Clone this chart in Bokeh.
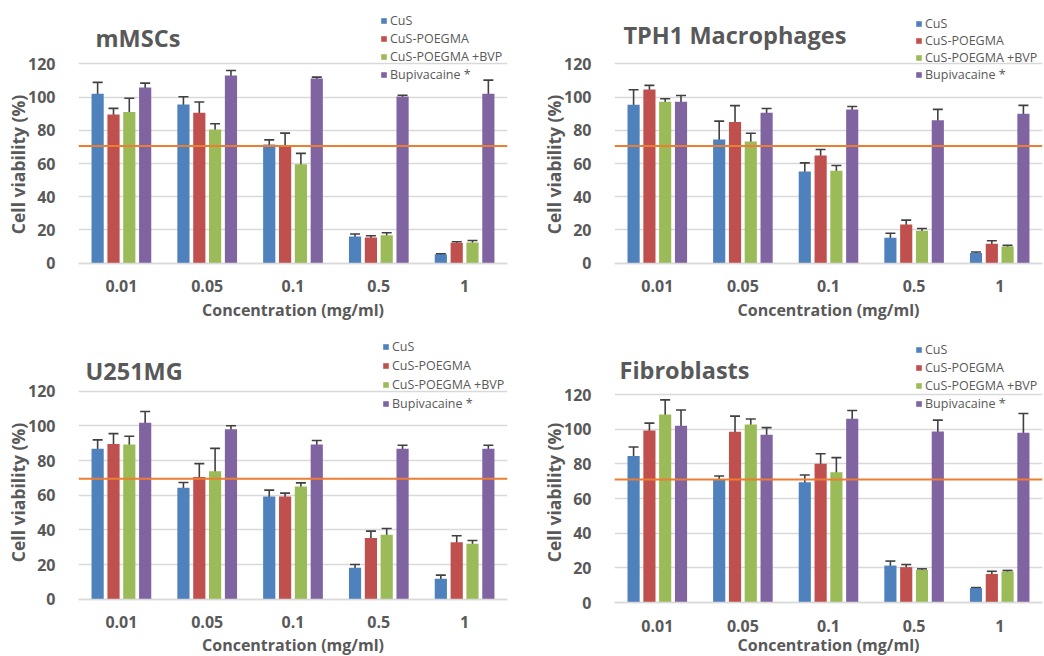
from bokeh.plotting import figure
from bokeh.models import (ColumnDataSource, FactorRange, Range1d, Whisker, Span,
                          Legend, LegendItem, TeeHead, FixedTicker, Label)
from bokeh.transform import dodge
from bokeh.layouts import gridplot
from bokeh.embed import file_html
from bokeh.resources import INLINE

# Concentrations tested (mg/ml) and the four treatments
concentrations = ["0.01", "0.05", "0.1", "0.5", "1"]
series_names = ["CuS", "CuS-POEGMA", "CuS-POEGMA +BVP", "Bupivacaine *"]
series_colors = ["#4F81BD", "#C0504D", "#9BBB59", "#8064A2"]
y_ticks = [0, 20, 40, 60, 80, 100, 120]

# mMSCs: mean viability (%) and standard deviation
mmsc_cus = [102.0, 95.5, 71.5, 16.0, 5.3]
mmsc_cus_sd = [6.8, 4.7, 2.7, 1.6, 0.4]
mmsc_poegma = [89.5, 90.5, 70.5, 15.5, 12.3]
mmsc_poegma_sd = [3.7, 6.5, 7.8, 1.0, 0.6]
mmsc_bvp = [91.0, 80.5, 59.5, 16.8, 12.5]
mmsc_bvp_sd = [8.3, 3.4, 6.6, 1.5, 1.2]
mmsc_bupi = [105.7, 113.0, 111.2, 100.3, 102.0]
mmsc_bupi_sd = [2.7, 3.0, 0.8, 0.8, 8.2]
mmsc_threshold = 70.5

# TPH1 macrophages
tph1_cus = [95.3, 74.5, 55.2, 15.3, 6.2]
tph1_cus_sd = [9.1, 11.0, 5.2, 2.7, 0.5]
tph1_poegma = [104.5, 85.0, 64.8, 23.3, 11.7]
tph1_poegma_sd = [2.5, 9.8, 3.6, 2.6, 1.8]
tph1_bvp = [97.2, 73.2, 55.6, 19.5, 10.1]
tph1_bvp_sd = [1.8, 5.0, 3.2, 1.4, 0.7]
tph1_bupi = [97.2, 90.5, 92.5, 86.0, 90.0]
tph1_bupi_sd = [3.7, 2.6, 1.8, 6.6, 5.0]
tph1_threshold = 70.5

# U251MG
u251_cus = [86.8, 64.3, 59.3, 18.2, 11.8]
u251_cus_sd = [5.1, 3.0, 3.6, 1.8, 2.1]
u251_poegma = [89.5, 70.5, 59.3, 35.3, 32.8]
u251_poegma_sd = [6.0, 7.7, 1.9, 4.0, 3.8]
u251_bvp = [89.2, 73.8, 65.0, 37.2, 32.0]
u251_bvp_sd = [4.8, 13.2, 2.1, 3.6, 1.9]
u251_bupi = [101.8, 98.0, 89.2, 86.8, 86.8]
u251_bupi_sd = [6.5, 2.1, 2.4, 2.0, 2.0]
u251_threshold = 69.5

# Fibroblasts
fibro_cus = [84.5, 71.0, 69.4, 21.3, 8.3]
fibro_cus_sd = [5.2, 2.0, 4.2, 2.6, 0.3]
fibro_poegma = [99.2, 98.5, 80.0, 20.4, 16.5]
fibro_poegma_sd = [4.3, 9.0, 5.8, 1.5, 1.5]
fibro_bvp = [108.5, 102.7, 75.2, 18.8, 17.9]
fibro_bvp_sd = [8.4, 3.2, 8.4, 0.6, 0.6]
fibro_bupi = [102.0, 96.8, 106.0, 98.6, 98.0]
fibro_bupi_sd = [9.1, 4.1, 4.8, 6.6, 11.0]
fibro_threshold = 71.0

TEXT = "#595959"
FONT = "Open Sans"
OFFSETS = [-0.277, -0.092, 0.092, 0.277]
BAR_W = 0.142
FIG_H = 328


def panel(title, means, sds, threshold, left, right, y_top_px, y_zero_px,
          title_pos, legend_loc, legend_spacing, xlabel_standoff):
    # the frame fills the whole height; the value axis is mapped so that
    # 120 sits at y_top_px and 0 at y_zero_px (pixels from the figure top)
    per_px = 120.0 / (y_zero_px - y_top_px)
    y_end = 120 + y_top_px * per_px
    y_start = -(FIG_H - y_zero_px) * per_px

    p = figure(width=522, height=FIG_H, x_range=FactorRange(*concentrations),
               y_range=Range1d(y_start, y_end), output_backend="svg",
               toolbar_location=None, min_border_left=left, min_border_right=right,
               min_border_top=0, min_border_bottom=0)
    p.outline_line_color = None
    p.background_fill_color = "white"

    p.xgrid.grid_line_color = None
    p.ygrid.ticker = FixedTicker(ticks=y_ticks)
    p.ygrid.grid_line_color = "#D9D9D9"
    p.ygrid.grid_line_width = 1.3

    p.yaxis.ticker = FixedTicker(ticks=y_ticks)
    p.yaxis.axis_line_color = None
    p.yaxis.major_tick_line_color = None
    p.yaxis.minor_tick_line_color = None
    p.yaxis.major_label_standoff = 17
    p.yaxis.axis_label = "Cell viability (%)"
    p.yaxis.axis_label_standoff = -5

    # category axis drawn along the zero line
    p.xaxis.fixed_location = 0
    p.xaxis.axis_line_color = "#D9D9D9"
    p.xaxis.axis_line_width = 1.5
    p.xaxis.major_tick_line_color = None
    p.xaxis.major_label_standoff = 11
    p.xaxis.axis_label = "Concentration (mg/ml)"
    p.xaxis.axis_label_standoff = xlabel_standoff

    for ax in (p.xaxis[0], p.yaxis[0]):
        ax.major_label_text_font = FONT
        ax.major_label_text_font_size = "16px"
        ax.major_label_text_font_style = "bold"
        ax.major_label_text_color = TEXT
        ax.axis_label_text_font = FONT
        ax.axis_label_text_font_style = "bold"
        ax.axis_label_text_color = TEXT
    p.xaxis.axis_label_text_font_size = "16px"
    p.yaxis.axis_label_text_font_size = "17.5px"

    # panel heading
    p.add_layout(Label(x=title_pos[0], y=title_pos[1], x_units="screen", y_units="screen",
                       text=title, text_align="left", text_baseline="middle",
                       text_font=FONT, text_font_size="23.5px", text_font_style="bold",
                       text_color=TEXT))

    items = []
    for name, color, off, m, s in zip(series_names, series_colors, OFFSETS, means, sds):
        src = ColumnDataSource(dict(
            x=concentrations, top=m,
            upper=[a + b for a, b in zip(m, s)],
            lower=[a - b for a, b in zip(m, s)]))
        xs = dodge("x", off, range=p.x_range)
        r = p.vbar(x=xs, top="top", bottom=0, width=BAR_W, source=src,
                   fill_color=color, line_color=None)
        w = Whisker(base=xs, upper="upper", lower="lower", source=src,
                    line_color="#404040", line_width=1.6,
                    upper_head=TeeHead(size=10, line_color="#404040", line_width=1.6),
                    lower_head=TeeHead(size=10, line_color="#404040", line_width=1.6))
        p.add_layout(w)
        items.append(LegendItem(label=name, renderers=[r]))

    p.add_layout(Span(location=threshold, dimension="width",
                      line_color="#ED7D31", line_width=2))

    leg = Legend(items=items, location=legend_loc)
    leg.label_text_font = FONT
    leg.label_text_font_size = "12.5px"
    leg.label_text_color = TEXT
    leg.glyph_width = 7
    leg.glyph_height = 7
    leg.label_standoff = 3
    leg.label_height = 12
    leg.spacing = legend_spacing
    leg.padding = 0
    leg.margin = 0
    leg.border_line_color = None
    leg.background_fill_alpha = 0
    p.add_layout(leg)
    return p


p1 = panel("mMSCs",
           [mmsc_cus, mmsc_poegma, mmsc_bvp, mmsc_bupi],
           [mmsc_cus_sd, mmsc_poegma_sd, mmsc_bvp_sd, mmsc_bupi_sd],
           mmsc_threshold, 78, 15, 63.3, 262.7, (17, 290.5), (302, 245), 1, 3)
p2 = panel("TPH1 Macrophages",
           [tph1_cus, tph1_poegma, tph1_bvp, tph1_bupi],
           [tph1_cus_sd, tph1_poegma_sd, tph1_bvp_sd, tph1_bupi_sd],
           tph1_threshold, 92, 2, 63.3, 262.7, (9, 293.5), (301, 245), -1, 3)
p3 = panel("U251MG",
           [u251_cus, u251_poegma, u251_bvp, u251_bupi],
           [u251_cus_sd, u251_poegma_sd, u251_bvp_sd, u251_bupi_sd],
           u251_threshold, 78, 15, 62.7, 270.7, (7, 285.5), (304, 244), 2, 2)
p4 = panel("Fibroblasts",
           [fibro_cus, fibro_poegma, fibro_bvp, fibro_bupi],
           [fibro_cus_sd, fibro_poegma_sd, fibro_bvp_sd, fibro_bupi_sd],
           fibro_threshold, 92, 2, 66.0, 274.0, (5, 287), (301, 244), 1, -1)

grid = gridplot([[p1, p2], [p3, p4]], toolbar_location=None)

open("out.html", "w").write(file_html(grid, INLINE))
